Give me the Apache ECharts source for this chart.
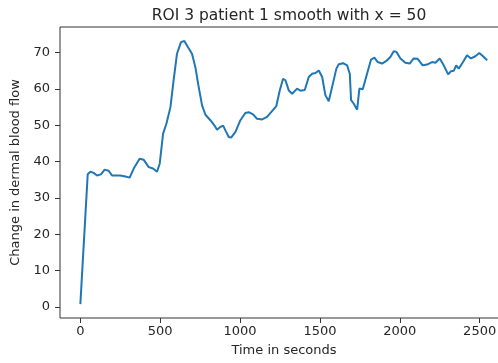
<!DOCTYPE html>
<html>
<head>
<meta charset="utf-8">
<script src="https://cdn.jsdelivr.net/npm/echarts@6/dist/echarts.min.js"></script>
<style>
html, body { margin: 0; padding: 0; background: #fff; }
#chart { width: 498px; height: 363px; }
</style>
</head>
<body>
<div id="chart"></div>
<script>
var timeSec = [0, 46, 63, 83, 104, 129, 152, 177, 198, 250, 282, 309, 334, 371, 397, 428, 455, 480, 497,
	518, 539, 564, 584, 605, 630, 651, 672, 699, 720, 741, 762, 783, 814, 839, 856, 872, 894, 908, 929,
	944, 971, 1002, 1033, 1054, 1081, 1106, 1138, 1169, 1200, 1227, 1248, 1269, 1284, 1305, 1326, 1357,
	1378, 1405, 1430, 1451, 1472, 1493, 1514, 1534, 1555, 1576, 1603, 1618, 1645, 1670, 1687, 1695, 1711,
	1733, 1747, 1768, 1795, 1820, 1841, 1862, 1889, 1916, 1941, 1962, 1979, 2004, 2035, 2062, 2087, 2112,
	2143, 2171, 2202, 2223, 2250, 2275, 2303, 2321, 2338, 2353, 2369, 2396, 2421, 2446, 2473, 2498, 2521, 2547];
var bloodFlow = [0.8, 36.5, 37.2, 36.9, 36.2, 36.5, 37.8, 37.5, 36.2, 36.2, 35.9, 35.6, 38.1, 40.8, 40.5, 38.5, 38.1, 37.2, 39.5,
	47.7, 50.5, 55.0, 62.4, 69.7, 72.9, 73.2, 71.6, 69.7, 66.0, 60.5, 55.5, 52.9, 51.4, 50.0, 48.8, 49.4, 49.9, 48.6, 46.8,
	46.6, 48.2, 51.4, 53.4, 53.6, 53.0, 51.8, 51.6, 52.3, 53.9, 55.3, 59.5, 62.8, 62.4, 59.6, 58.7, 60.1,
	59.5, 59.7, 63.3, 64.2, 64.4, 65.1, 63.3, 58.3, 56.6, 60.5, 65.6, 66.8, 67.1, 66.5, 64.2, 56.9, 56.0,
	54.3, 60.1, 59.9, 64.2, 68.1, 68.6, 67.4, 67.0, 67.7, 68.8, 70.4, 70.2, 68.4, 67.2, 67.0, 68.4, 68.3,
	66.5, 66.7, 67.4, 67.2, 68.4, 66.5, 64.0, 64.9, 65.0, 66.5, 65.6, 67.4, 69.3, 68.4, 69.0, 69.9, 69.0, 67.9];
var xTicks = [0, 500, 1000, 1500, 2000, 2500];
var yTicks = [0, 10, 20, 30, 40, 50, 60, 70];

var points = [];
for (var i = 0; i < timeSec.length; i++) {
	points.push([timeSec[i], bloodFlow[i]]);
}

var txt = '#262626';
var fontFam = 'DejaVu Sans';

var option = {
	animation: false,
	title: {
		text: 'ROI 3 patient 1 smooth with x = 50',
		left: 284,
		textAlign: 'center',
		top: 3,
		textStyle: { fontFamily: fontFam, fontSize: 15.5, fontWeight: 'normal', color: txt }
	},
	grid: {
		left: 60,
		right: -10,
		top: 27,
		bottom: 45,
		outerBoundsMode: 'none',
		containLabel: false,
		show: true,
		borderColor: '#333',
		borderWidth: 1
	},
	xAxis: {
		type: 'value',
		min: -127.5,
		max: 2677.5,
		name: 'Time in seconds',
		nameLocation: 'middle',
		nameGap: 26,
		nameTextStyle: { fontFamily: fontFam, fontSize: 13, color: txt },
		axisLine: { show: false, onZero: false },
		splitLine: { show: false },
		axisTick: { show: true, length: 5, customValues: xTicks, lineStyle: { color: '#333' } },
		axisLabel: {
			customValues: xTicks, margin: 7, fontFamily: fontFam, fontSize: 13, color: txt,
			formatter: function(v) { return String(v); }
		}
	},
	yAxis: {
		type: 'value',
		min: -3.03,
		max: 77.05,
		name: 'Change in dermal blood flow',
		nameLocation: 'middle',
		nameGap: 30,
		nameTextStyle: { fontFamily: fontFam, fontSize: 13, color: txt },
		axisLine: { show: false, onZero: false },
		splitLine: { show: false },
		axisTick: { show: true, length: 5, customValues: yTicks, lineStyle: { color: '#333' } },
		axisLabel: { customValues: yTicks, margin: 10, fontFamily: fontFam, fontSize: 13, color: txt }
	},
	series: [{
		type: 'line',
		data: points,
		showSymbol: false,
		lineStyle: { color: '#1f77b4', width: 2 }
	}]
};

var chart = echarts.init(document.getElementById('chart'));
chart.setOption(option);
</script>
</body>
</html>
